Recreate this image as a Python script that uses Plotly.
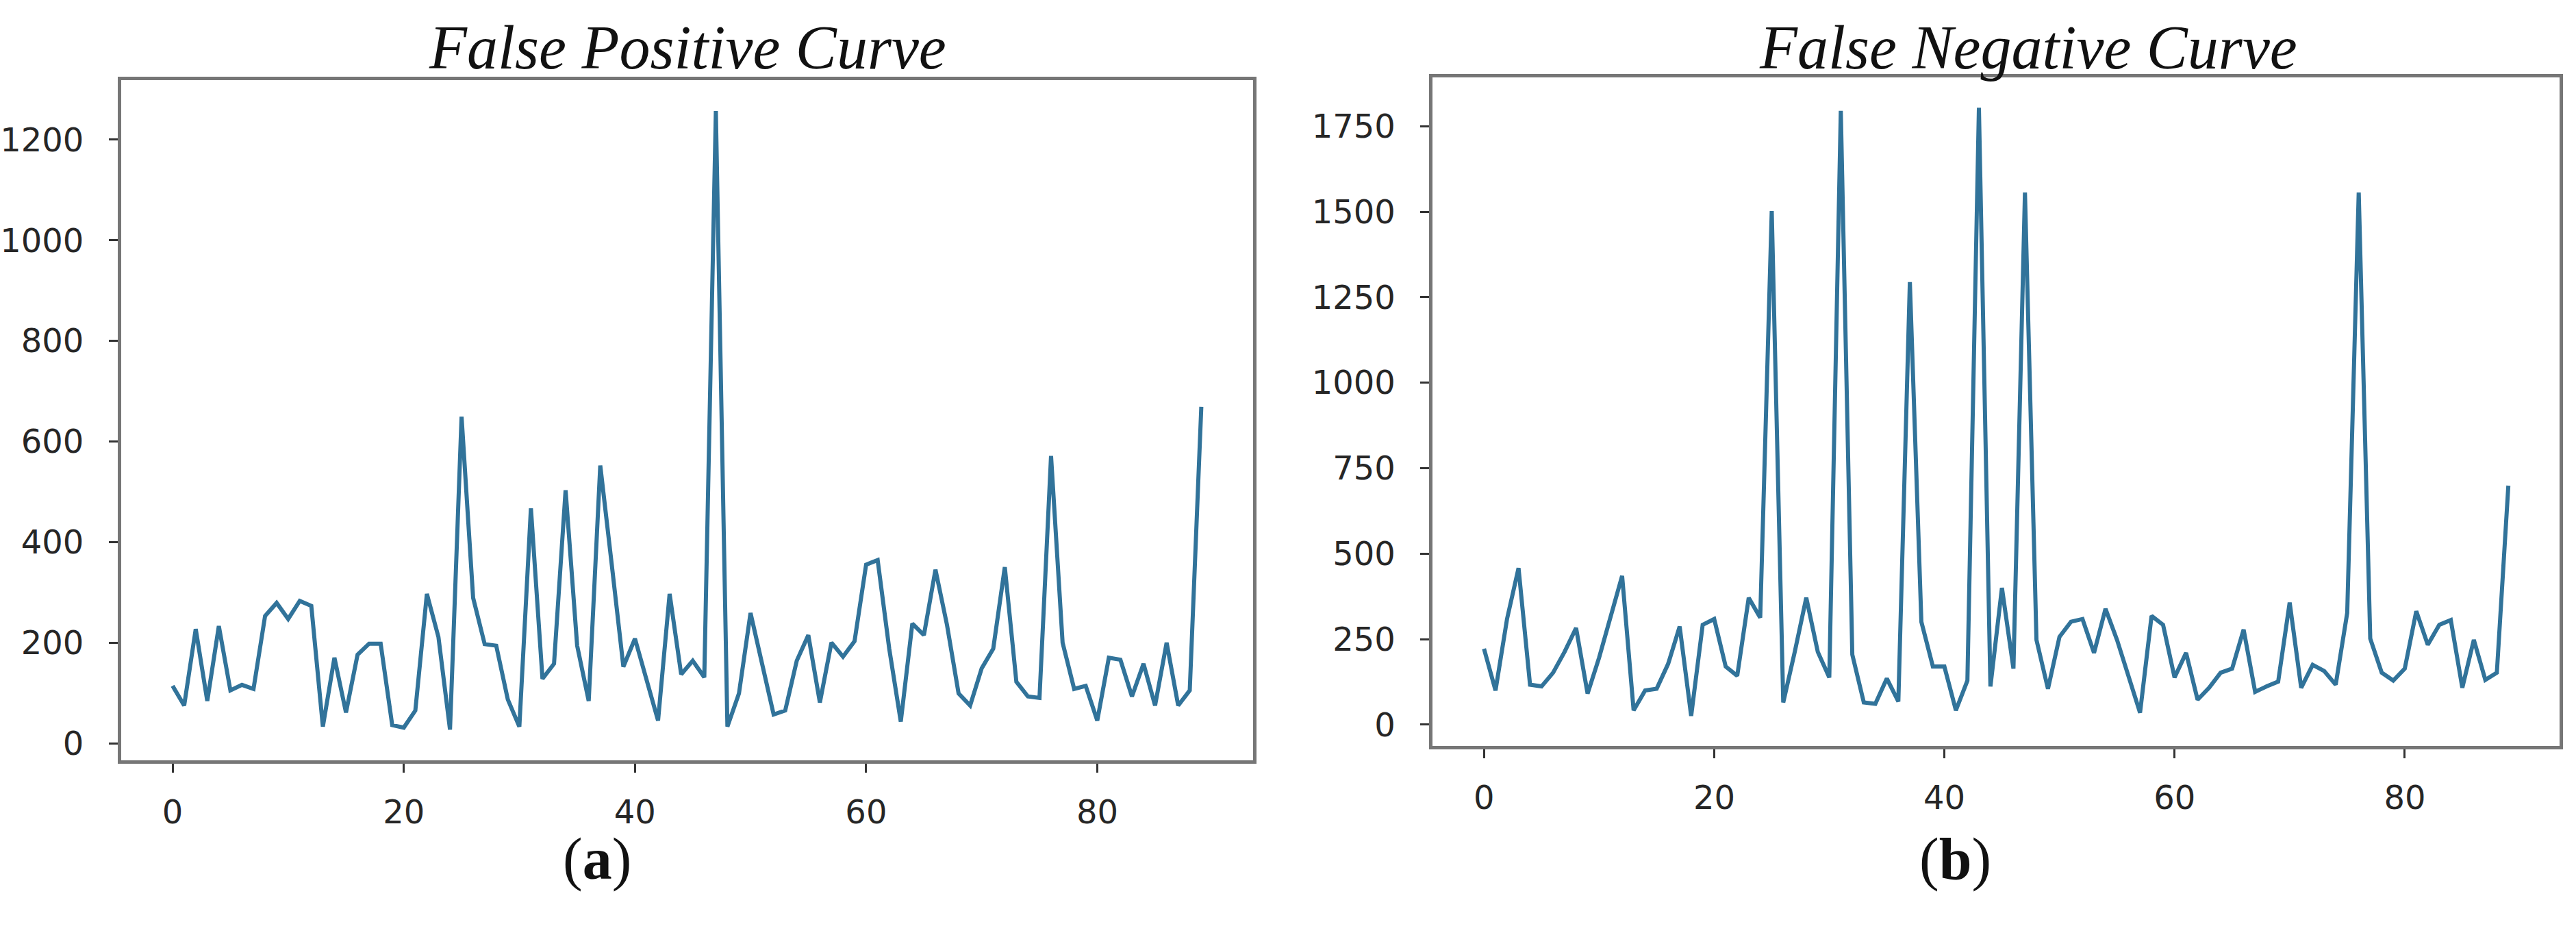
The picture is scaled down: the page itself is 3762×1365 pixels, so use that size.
import plotly.graph_objects as go

# sample index 0..89
steps = list(range(90))

false_positive = [
    114, 75, 227, 84, 233, 105, 116, 108, 253, 279,
    247, 283, 273, 33, 170, 61, 176, 198, 198, 36,
    31, 65, 297, 211, 27, 649, 289, 197, 194, 87,
    33, 467, 128, 158, 503, 194, 84, 552, 354, 152,
    208, 125, 45, 297, 137, 164, 131, 1257, 33, 99,
    259, 158, 57, 65, 164, 215, 81, 200, 172, 203,
    355, 364, 188, 43, 238, 215, 345, 235, 99, 75,
    149, 188, 350, 122, 93, 90, 571, 200, 108, 114,
    45, 170, 166, 93, 158, 75, 200, 75, 105, 669,
]

false_negative = [
    222, 100, 309, 458, 117, 112, 152, 213, 283, 91,
    196, 318, 435, 42, 100, 105, 178, 287, 26, 292,
    309, 170, 143, 371, 313, 1502, 65, 213, 371, 213,
    138, 1795, 205, 65, 61, 135, 68, 1294, 301, 170,
    170, 42, 129, 1804, 112, 400, 164, 1556, 248, 105,
    257, 301, 309, 210, 339, 248, 143, 35, 318, 292,
    138, 210, 73, 108, 152, 164, 278, 96, 112, 126,
    357, 108, 175, 157, 117, 327, 1556, 252, 152, 129,
    164, 332, 234, 292, 306, 108, 248, 131, 152, 699,
]

titles = ["False Positive Curve", "False Negative Curve"]
captions = ["(<b>a</b>)", "(<b>b</b>)"]

W, H = 3762, 1365
LINE = "#31739a"
SPINE = "#767676"
TICKFONT = dict(family="DejaVu Sans", size=48, color="#262626")


def auto_range(vals, pad=0.05):
    lo, hi = min(vals), max(vals)
    span = hi - lo
    return [lo - pad * span, hi + pad * span]


fig = go.Figure()
fig.add_trace(go.Scatter(x=steps, y=false_positive, mode="lines",
                         line=dict(color=LINE, width=6), xaxis="x", yaxis="y",
                         showlegend=False))
fig.add_trace(go.Scatter(x=steps, y=false_negative, mode="lines",
                         line=dict(color=LINE, width=6), xaxis="x2", yaxis="y2",
                         showlegend=False))

axis_common = dict(showgrid=False, zeroline=False, showline=True, mirror=True,
                   linecolor=SPINE, linewidth=5, ticks="outside", ticklen=13,
                   tickwidth=3, tickcolor="#333333", tickfont=TICKFONT)

fig.update_layout(
    width=W, height=H,
    margin=dict(l=0, r=0, t=0, b=0),
    paper_bgcolor="white", plot_bgcolor="white",
    xaxis=dict(domain=[176 / W, 1829 / W], anchor="y", range=auto_range(steps),
               tickmode="linear", tick0=0, dtick=20, ticklabelstandoff=16,
               **axis_common),
    yaxis=dict(domain=[1 - 1112 / H, 1 - 117 / H], anchor="x",
               range=auto_range(false_positive), tickmode="linear", tick0=0,
               dtick=200, ticklabelstandoff=27, **axis_common),
    xaxis2=dict(domain=[2092 / W, 3738 / W], anchor="y2", range=auto_range(steps),
                tickmode="linear", tick0=0, dtick=20, ticklabelstandoff=16,
                **axis_common),
    yaxis2=dict(domain=[1 - 1091 / H, 1 - 113 / H], anchor="x2",
                range=auto_range(false_negative), tickmode="linear", tick0=0,
                dtick=250, ticklabelstandoff=27, **axis_common),
)

# subplot titles
title_x = [1003 / W, 2962 / W]
for tx, t in zip(title_x, titles):
    fig.add_annotation(x=tx, y=1 - 70 / H, xref="paper", yref="paper",
                       text="<i>" + t + "</i>", showarrow=False,
                       xanchor="center", yanchor="middle",
                       font=dict(family="Liberation Serif", size=90, color="#111111"))

# panel captions
cap_x = [871 / W, 2855 / W]
for cx, c in zip(cap_x, captions):
    fig.add_annotation(x=cx, y=1 - 1256 / H, xref="paper", yref="paper",
                       text=c, showarrow=False, xanchor="center", yanchor="middle",
                       font=dict(family="Liberation Serif", size=86, color="#111111"))

fig.write_html("out.html", config={"displayModeBar": False},
               post_script="document.body.style.margin='0';document.body.style.overflow='hidden';")
